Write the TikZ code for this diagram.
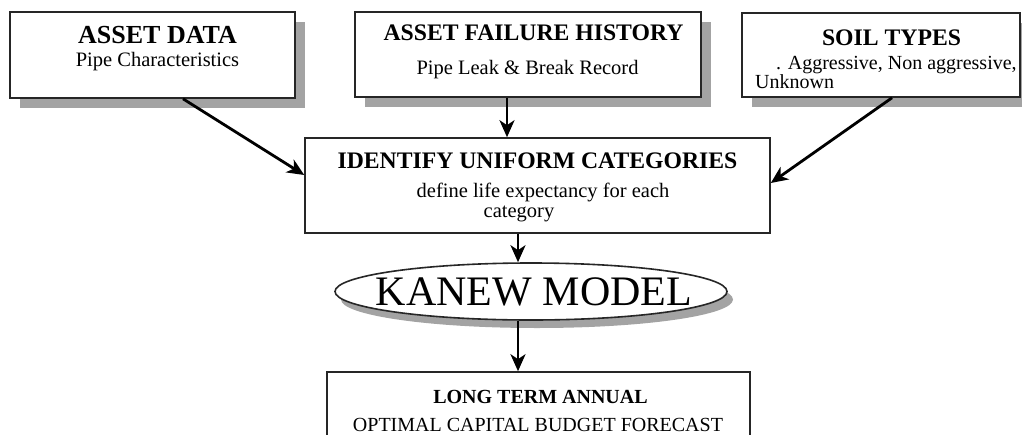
\documentclass[tikz,border=0pt]{standalone}
\usepackage{fontspec}
\setmainfont{Liberation Serif}
\usetikzlibrary{arrows.meta,shapes.geometric,calc}

\begin{document}
\begin{tikzpicture}[x=1pt,y=-1pt,
  box/.style={draw=black!85,line width=1.6pt,fill=white,rectangle,inner sep=0pt},
  oval/.style={draw=black!85,line width=1.6pt,fill=white,ellipse,inner sep=0pt},
  shade/.style={fill=black!36},
  conn/.style={line width=2.8pt,-{Stealth[length=17pt,width=15pt,inset=5pt]}},
  ttl/.style={font=\bfseries\fontsize{23.7}{26}\selectfont,anchor=base,inner sep=0pt},
  sub/.style={font=\fontsize{20.5}{24}\selectfont,anchor=base,inner sep=0pt},
  subl/.style={sub,anchor=base west}]
\useasboundingbox (0,0) rectangle (1022,434);
\clip (0,0) rectangle (1022,434);

% drop shadows
\fill[shade] (20,22) rectangle (305,108);
\fill[shade] (365,22) rectangle (711,107);
\fill[shade] (752,23) rectangle (1030,107);
\fill[shade] (537,299.5) ellipse [x radius=196, y radius=28.5];

% boxes
\node[box,minimum width=285pt,minimum height=86pt] (b1) at (152.5,55) {};
\node[box,minimum width=346pt,minimum height=85pt] (b2) at (528,54.5) {};
\node[box,minimum width=278pt,minimum height=84pt] (b3) at (881,55) {};
\node[box,minimum width=465pt,minimum height=95pt] (b4) at (537.5,185.5) {};
\node[oval,minimum width=392pt,minimum height=57pt] (el) at (531,291.5) {};
\node[box,minimum width=423pt,minimum height=100pt] (b6) at (538.5,422) {};

% texts
\node[ttl,font=\bfseries\fontsize{26}{28}\selectfont] (t1) at (157.5,43) {ASSET DATA};
\node[sub] (s1) at (157.5,66) {Pipe Characteristics};
\node[ttl] (t2) at (533.5,40) {ASSET FAILURE HISTORY};
\node[sub] (s2) at (527.5,74) {Pipe Leak \& Break Record};
\node[ttl] (t3) at (891.5,45) {SOIL TYPES};
\node[subl,font=\fontsize{20}{24}\selectfont] (s3a) at (776,69) {. Aggressive, Non aggressive,};
\node[subl,font=\fontsize{20}{24}\selectfont] (s3b) at (755,88) {Unknown};
\node[ttl] (t4) at (537.5,168) {IDENTIFY UNIFORM CATEGORIES};
\node[sub] (s4a) at (543,197) {define life expectancy for each};
\node[sub] (s4b) at (519,217) {category};
\node[sub,font=\fontsize{42}{46}\selectfont] (t5) at (534,305) {KANEW MODEL};
\node[ttl,font=\bfseries\fontsize{20}{24}\selectfont] (t6) at (540.5,403) {LONG TERM ANNUAL};
\node[sub,font=\fontsize{20}{24}\selectfont] (s6) at (538,431) {OPTIMAL CAPITAL BUDGET FORECAST};

% connectors
\draw[conn] ([xshift=30.5pt]b1.south) -- ([yshift=10.5pt]b4.west);
\draw[conn] ([xshift=-21pt]b2.south) -- ([xshift=-21pt]b2.south |- b4.north);
\draw[conn] ([xshift=11pt]b3.south) -- ([yshift=2.5pt]b4.east);
\draw[conn] ([xshift=-19.5pt]b4.south) -- ([xshift=-19.5pt]b4.south |- el.north);
\draw[conn] ([xshift=-13pt]el.south) -- ([xshift=-13pt]el.south |- b6.north);
\end{tikzpicture}
\end{document}
